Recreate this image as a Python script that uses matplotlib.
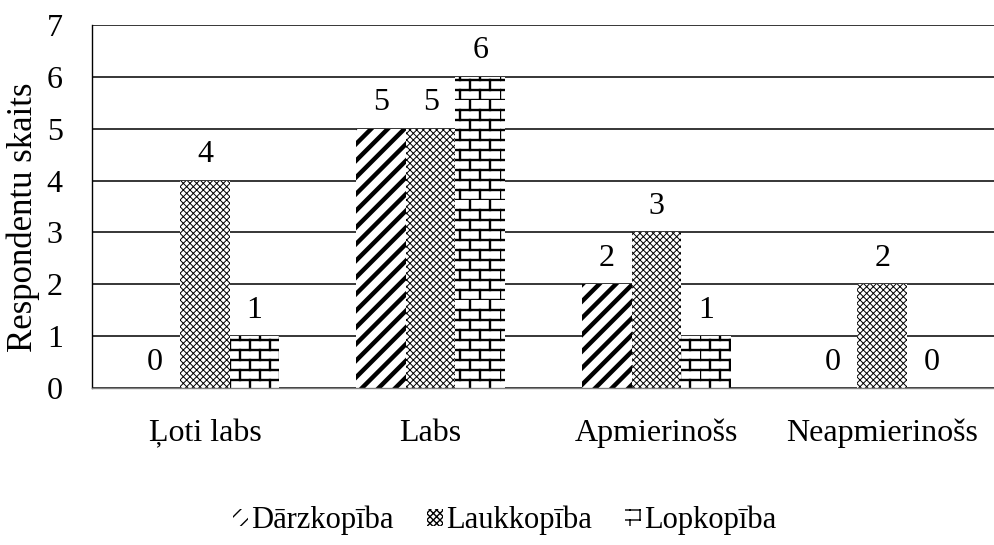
import warnings
import numpy as np
import matplotlib
matplotlib.use("Agg")
import matplotlib.pyplot as plt
import matplotlib.hatch as mhatch
from matplotlib.path import Path

warnings.filterwarnings("ignore", message=".*hatch must consist.*")

# Data
categories = ["Ļoti labs", "Labs", "Apmierinošs", "Neapmierinošs"]
series_names = ["Dārzkopība", "Laukkopība", "Lopkopība"]
darzkopiba = [0, 5, 2, 0]
laukkopiba = [4, 5, 3, 2]
lopkopiba = [1, 6, 1, 0]


class BrickHatch(mhatch.HatchPatternBase):
    """Brick wall hatch, triggered by the character 'b'."""

    def __init__(self, hatch, density):
        n = hatch.count('b')
        self.rows = 10 * n
        self.cols = 5 * n
        if n:
            self.num_vertices = 2 * self.rows + 2 * self.rows * self.cols
        else:
            self.num_vertices = 0

    def set_vertices_and_codes(self, vertices, codes):
        k = 0
        for i in range(self.rows):
            y0 = i / self.rows
            y1 = (i + 1) / self.rows
            vertices[k] = (0.0, y0)
            vertices[k + 1] = (1.0, y0)
            codes[k] = Path.MOVETO
            codes[k + 1] = Path.LINETO
            k += 2
            shift = 0.5 * (i % 2)
            for j in range(self.cols):
                xx = (j + shift) / self.cols
                vertices[k] = (xx, y0)
                vertices[k + 1] = (xx, y1)
                codes[k] = Path.MOVETO
                codes[k + 1] = Path.LINETO
                k += 2


mhatch._hatch_types.append(BrickHatch)

plt.rcParams['font.family'] = ['Liberation Serif', 'DejaVu Serif']
FS_NUM = 23    # tick and value labels
FS_TXT = 23    # category labels
FS_LEG = 22
FS_YLAB = 25

fig = plt.figure(figsize=(9.95, 5.45), dpi=100)
ax = fig.add_axes([0.0925, 0.288, 0.9075, 0.666])

x = np.arange(len(categories))
width = 0.22
styles = [
    (darzkopiba, '//', 3.2),
    (laukkopiba, 'xxxxx', 0.7),
    (lopkopiba, 'b', 1.7),
]

ax.set_axisbelow(True)
ax.yaxis.grid(True, color='black', linewidth=1.1)

for i, (vals, hatch, hlw) in enumerate(styles):
    with plt.rc_context({'hatch.linewidth': hlw}):
        bars = ax.bar(x + (i - 1) * width, vals, width, color='white',
                      edgecolor='black', linewidth=0, hatch=hatch,
                      label=series_names[i], zorder=2)
        for b in bars:
            if hasattr(b, 'set_hatch_linewidth'):
                b.set_hatch_linewidth(hlw)
    for xi, v in zip(x + (i - 1) * width, vals):
        ax.text(xi, v + 0.5, str(v), ha='center', va='center', fontsize=FS_NUM)

ax.set_xlim(-0.5, len(categories) - 0.5)
ax.set_ylim(0, 7)
ax.set_yticks(range(0, 8))
ax.set_xticks(x)
ax.set_xticklabels(categories)
ax.tick_params(axis='y', length=0, pad=21, labelsize=FS_NUM)
ax.tick_params(axis='x', length=0, pad=22, labelsize=FS_TXT)
ax.set_ylabel('Respondentu skaits', fontsize=FS_YLAB, labelpad=5)
ax.yaxis.label.set_y(0.47)

for side in ['top', 'right']:
    ax.spines[side].set_visible(False)
ax.spines['left'].set_color('black')
ax.spines['left'].set_linewidth(1.0)
ax.spines['bottom'].set_color('#808080')
ax.spines['bottom'].set_linewidth(1.0)

fig.legend(loc='center', bbox_to_anchor=(0.507, 0.045), ncol=3, frameon=False,
           fontsize=FS_LEG, handlelength=0.5, handleheight=0.5,
           handletextpad=0.1, columnspacing=1.1)

fig.savefig('out.png', dpi=100)
